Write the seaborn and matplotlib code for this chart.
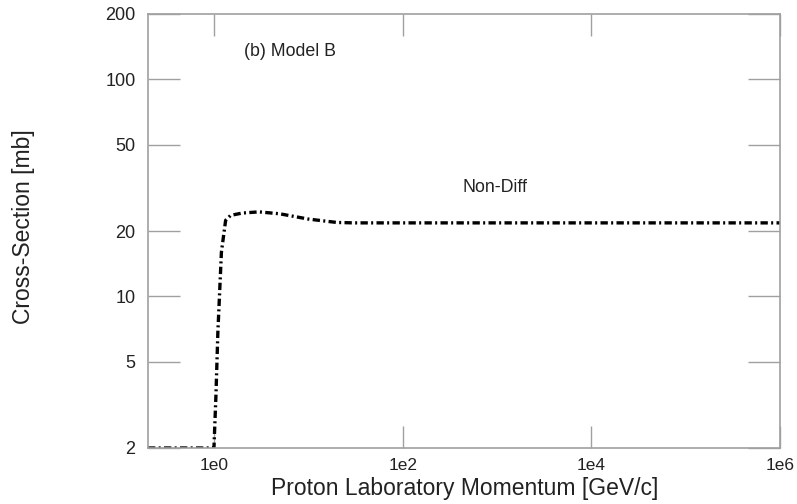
import matplotlib
matplotlib.use("Agg")
import matplotlib.pyplot as plt
import seaborn as sns
import pandas as pd
import numpy as np
from matplotlib.ticker import FixedLocator, FixedFormatter, NullLocator

# Data
momentum = [0.2, 0.5, 0.95, 1.0, 1.05, 1.1, 1.2, 1.33, 1.5, 2.0, 3.0, 5.0, 10.0, 20.0, 30.0, 100.0, 1e3, 1e4, 1e5, 1e6]
xsec     = [2.0, 2.0, 2.0, 2.0, 3.5, 6.8, 16.0, 22.4, 23.6, 24.2, 24.5, 24.0, 22.7, 21.9, 21.8, 21.8, 21.8, 21.8, 21.8, 21.8]

xticks = [1, 1e2, 1e4, 1e6]
xticklabels = ["1e0", "1e2", "1e4", "1e6"]
yticks = [2, 5, 10, 20, 50, 100, 200]
yticklabels = ["2", "5", "10", "20", "50", "100", "200"]

sns.set_style("white")
plt.rcParams['font.family'] = ['Liberation Sans', 'DejaVu Sans']

fig = plt.figure(figsize=(7.97, 5.04), dpi=100)
ax = fig.add_axes([148/797, 1-448/504, (780-148)/797, (448-14)/504])

df = pd.DataFrame({"p": momentum, "s": xsec})
sns.lineplot(data=df, x="p", y="s", ax=ax, color="black", linewidth=2.4,
             dashes=False, estimator=None, sort=False)
ax.lines[0].set_dashes([2.2, 1.0, 0.6, 1.0])

ax.set_xscale("log")
ax.set_yscale("log")
ax.set_xlim(0.2, 1e6)
ax.set_ylim(2, 200)

ax.xaxis.set_major_locator(FixedLocator(xticks))
ax.xaxis.set_major_formatter(FixedFormatter(xticklabels))
ax.yaxis.set_major_locator(FixedLocator(yticks))
ax.yaxis.set_major_formatter(FixedFormatter(yticklabels))
ax.xaxis.set_minor_locator(NullLocator())
ax.yaxis.set_minor_locator(NullLocator())

gray = "#a0a0a0"
ax.tick_params(axis="x", which="major", direction="in", length=16, width=1,
               color=gray, top=True, bottom=True, labelsize=12.5, pad=7, labelcolor="#222222")
ax.tick_params(axis="y", which="major", direction="in", length=23, width=1,
               color=gray, left=True, right=True, labelsize=13, pad=9, labelcolor="#222222")
for sp in ax.spines.values():
    sp.set_color(gray)
    sp.set_linewidth(1.2)
    sp.set_visible(True)

ax.set_xlabel("Proton Laboratory Momentum [GeV/c]", fontsize=16.5, color="#222222")
ax.set_ylabel("Cross-Section [mb]", fontsize=16.5, color="#222222")
ax.xaxis.set_label_coords(0.5008, -0.066)
ax.yaxis.set_label_coords(-0.179, 0.51)

ax.text(0.152, 0.913, "(b) Model B", transform=ax.transAxes, fontsize=12.8, color="#222222",
        ha="left", va="center")
ax.text(0.498, 0.60, "Non-Diff", transform=ax.transAxes, fontsize=12.8, color="#222222",
        ha="left", va="center")

fig.savefig("out.png", dpi=100)
